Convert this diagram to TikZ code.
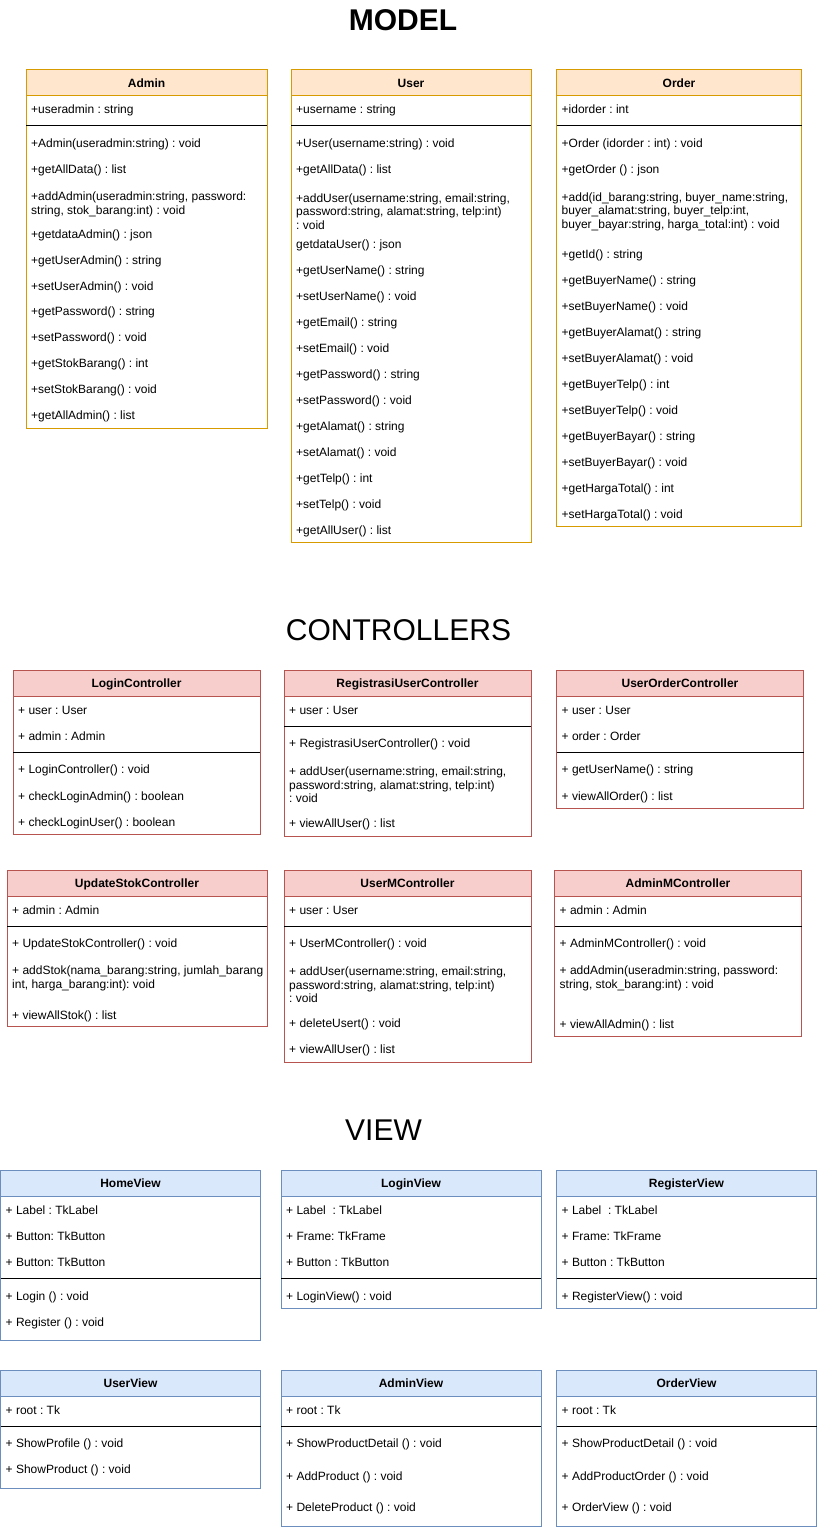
\documentclass[tikz,border=0pt]{standalone}
\usepackage{fontspec}
\setmainfont{Liberation Sans}
\usepackage{xcolor}
\usepackage{tikz}
\usetikzlibrary{positioning}
\frenchspacing

\definecolor{mfill}{HTML}{FFE6CC}
\definecolor{mline}{HTML}{D79B00}
\definecolor{cfill}{HTML}{F8CECC}
\definecolor{cline}{HTML}{B85450}
\definecolor{vfill}{HTML}{DAE8FC}
\definecolor{vline}{HTML}{6C8EBF}

\begin{document}
\begin{tikzpicture}[
    x=1pt, y=-1pt,
    head/.style={
        draw,
        line width=1pt,
        anchor=north west,
        minimum height=26pt,
        inner sep=0pt,
        outer sep=0pt,
        text height=8.7pt,
        text depth=0pt,
        font=\bfseries\fontsize{12}{14}\selectfont
    },
    mhead/.style={head, fill=mfill, draw=mline},
    chead/.style={head, fill=cfill, draw=cline},
    vhead/.style={head, fill=vfill, draw=vline},
    body/.style={
        draw,
        line width=1pt,
        inner sep=0pt,
        outer sep=0pt
    },
    mbody/.style={body, draw=mline},
    cbody/.style={body, draw=cline},
    vbody/.style={body, draw=vline},
    member/.style={
        anchor=west,
        inner sep=0pt,
        yshift=-1.5pt,
        text height=8.7pt,
        text depth=2.5pt,
        font=\fontsize{12}{13.5}\selectfont
    },
    members/.style={member, text height=, text depth=, align=left},
    divider/.style={line width=1pt},
    title/.style={font=\fontsize{30}{36}\selectfont}
]
\useasboundingbox (0,0) rectangle (817,1530);

\node[title, font=\bfseries\fontsize{30}{36}\selectfont] (model) at (403,20) {MODEL};
\node[title] (controllers) at (398.5,630) {CONTROLLERS};
\node[title] (view) at (383.5,1130) {VIEW};

\node[mhead, minimum width=241pt] (admin) at (26,70) {Admin};
\node[mbody, minimum width=241pt, minimum height=332pt, below=0pt of admin] (admin-body) {};
\draw[divider] (admin-body.west |- 0,126) -- (admin-body.east |- 0,126);
\node[member] (admin-a1) at (31,109) {+useradmin : string};
\node[member] (admin-m1) at (31,143) {+Admin(useradmin:string) : void};
\node[member] (admin-m2) at (31,169) {+getAllData() : list};
\node[members] (admin-m3) at (31,203) {+addAdmin(useradmin:string, password:\\string, stok\_barang:int) : void};
\node[member] (admin-m4) at (31,233.5) {+getdataAdmin() : json};
\node[member] (admin-m5) at (31,259.5) {+getUserAdmin() : string};
\node[member] (admin-m6) at (31,285.5) {+setUserAdmin() : void};
\node[member] (admin-m7) at (31,311) {+getPassword() : string};
\node[member] (admin-m8) at (31,337) {+setPassword() : void};
\node[member] (admin-m9) at (31,363) {+getStokBarang() : int};
\node[member] (admin-m10) at (31,389) {+setStokBarang() : void};
\node[member] (admin-m11) at (31,415) {+getAllAdmin() : list};

\node[mhead, minimum width=240pt] (user) at (291,70) {User};
\node[mbody, minimum width=240pt, minimum height=446pt, below=0pt of user] (user-body) {};
\draw[divider] (user-body.west |- 0,126) -- (user-body.east |- 0,126);
\node[member] (user-a1) at (296,109) {+username : string};
\node[member] (user-m1) at (296,143) {+User(username:string) : void};
\node[member] (user-m2) at (296,169) {+getAllData() : list};
\node[members] (user-m3) at (296,210) {+addUser(username:string, email:string,\\password:string, alamat:string, telp:int)\\: void};
\node[member] (user-m4) at (296,243.5) {getdataUser() : json};
\node[member] (user-m5) at (296,269.5) {+getUserName() : string};
\node[member] (user-m6) at (296,295.5) {+setUserName() : void};
\node[member] (user-m7) at (296,321.5) {+getEmail() : string};
\node[member] (user-m8) at (296,347.5) {+setEmail() : void};
\node[member] (user-m9) at (296,373.5) {+getPassword() : string};
\node[member] (user-m10) at (296,399.5) {+setPassword() : void};
\node[member] (user-m11) at (296,425.5) {+getAlamat() : string};
\node[member] (user-m12) at (296,451.5) {+setAlamat() : void};
\node[member] (user-m13) at (296,477.5) {+getTelp() : int};
\node[member] (user-m14) at (296,503.5) {+setTelp() : void};
\node[member] (user-m15) at (296,529.5) {+getAllUser() : list};

\node[mhead, minimum width=245pt] (order) at (556.5,70) {Order};
\node[mbody, minimum width=245pt, minimum height=430pt, below=0pt of order] (order-body) {};
\draw[divider] (order-body.west |- 0,126) -- (order-body.east |- 0,126);
\node[member] (order-a1) at (561.5,109) {+idorder : int};
\node[member] (order-m1) at (561.5,143) {+Order (idorder : int) : void};
\node[member] (order-m2) at (561.5,169) {+getOrder () : json};
\node[members] (order-m3) at (561.5,210) {+add(id\_barang:string, buyer\_name:string,\\buyer\_alamat:string, buyer\_telp:int,\\buyer\_bayar:string, harga\_total:int) : void};
\node[member] (order-m4) at (561.5,253.5) {+getId() : string};
\node[member] (order-m5) at (561.5,279.5) {+getBuyerName() : string};
\node[member] (order-m6) at (561.5,305.5) {+setBuyerName() : void};
\node[member] (order-m7) at (561.5,331.5) {+getBuyerAlamat() : string};
\node[member] (order-m8) at (561.5,357.5) {+setBuyerAlamat() : void};
\node[member] (order-m9) at (561.5,383.5) {+getBuyerTelp() : int};
\node[member] (order-m10) at (561.5,409.5) {+setBuyerTelp() : void};
\node[member] (order-m11) at (561.5,435.5) {+getBuyerBayar() : string};
\node[member] (order-m12) at (561.5,461.5) {+setBuyerBayar() : void};
\node[member] (order-m13) at (561.5,487.5) {+getHargaTotal() : int};
\node[member] (order-m14) at (561.5,513.5) {+setHargaTotal() : void};

\node[chead, minimum width=247pt] (loginc) at (13,670) {LoginController};
\node[cbody, minimum width=247pt, minimum height=138pt, below=0pt of loginc] (loginc-body) {};
\draw[divider] (loginc-body.west |- 0,752) -- (loginc-body.east |- 0,752);
\node[member] (loginc-a1) at (18,709.5) {+ user : User};
\node[member] (loginc-a2) at (18,735.5) {+ admin : Admin};
\node[member] (loginc-m1) at (18,769) {+ LoginController() : void};
\node[member] (loginc-m2) at (18,795.5) {+ checkLoginAdmin() : boolean};
\node[member] (loginc-m3) at (18,821.5) {+ checkLoginUser() : boolean};

\node[chead, minimum width=247pt] (regc) at (284,670) {RegistrasiUserController};
\node[cbody, minimum width=247pt, minimum height=140pt, below=0pt of regc] (regc-body) {};
\draw[divider] (regc-body.west |- 0,726) -- (regc-body.east |- 0,726);
\node[member] (regc-a1) at (289,709.5) {+ user : User};
\node[member] (regc-m1) at (289,743) {+ RegistrasiUserController() : void};
\node[members] (regc-m2) at (289,783.3) {+ addUser(username:string, email:string,\\password:string, alamat:string, telp:int)\\: void};
\node[member] (regc-m3) at (289,822.5) {+ viewAllUser() : list};

\node[chead, minimum width=247pt] (orderc) at (556.5,670) {UserOrderController};
\node[cbody, minimum width=247pt, minimum height=112pt, below=0pt of orderc] (orderc-body) {};
\draw[divider] (orderc-body.west |- 0,752) -- (orderc-body.east |- 0,752);
\node[member] (orderc-a1) at (561.5,709.5) {+ user : User};
\node[member] (orderc-a2) at (561.5,735.5) {+ order : Order};
\node[member] (orderc-m1) at (561.5,769) {+ getUserName() : string};
\node[member] (orderc-m2) at (561.5,795.5) {+ viewAllOrder() : list};

\node[chead, minimum width=260pt] (stokc) at (7,870) {UpdateStokController};
\node[cbody, minimum width=260pt, minimum height=130pt, below=0pt of stokc] (stokc-body) {};
\draw[divider] (stokc-body.west |- 0,926) -- (stokc-body.east |- 0,926);
\node[member] (stokc-a1) at (12,909.5) {+ admin : Admin};
\node[member] (stokc-m1) at (12,943) {+ UpdateStokController() : void};
\node[members] (stokc-m2) at (12,977) {+ addStok(nama\_barang:string, jumlah\_barang\\int, harga\_barang:int): void};
\node[member] (stokc-m3) at (12,1014.5) {+ viewAllStok() : list};

\node[chead, minimum width=247pt] (userc) at (284,870) {UserMController};
\node[cbody, minimum width=247pt, minimum height=166pt, below=0pt of userc] (userc-body) {};
\draw[divider] (userc-body.west |- 0,926) -- (userc-body.east |- 0,926);
\node[member] (userc-a1) at (289,909.5) {+ user : User};
\node[member] (userc-m1) at (289,943) {+ UserMController() : void};
\node[members] (userc-m2) at (289,983.3) {+ addUser(username:string, email:string,\\password:string, alamat:string, telp:int)\\: void};
\node[member] (userc-m3) at (289,1023) {+ deleteUsert() : void};
\node[member] (userc-m4) at (289,1049) {+ viewAllUser() : list};

\node[chead, minimum width=247pt] (adminc) at (554.5,870) {AdminMController};
\node[cbody, minimum width=247pt, minimum height=140pt, below=0pt of adminc] (adminc-body) {};
\draw[divider] (adminc-body.west |- 0,926) -- (adminc-body.east |- 0,926);
\node[member] (adminc-a1) at (559.5,909.5) {+ admin : Admin};
\node[member] (adminc-m1) at (559.5,943) {+ AdminMController() : void};
\node[members] (adminc-m2) at (559.5,977) {+ addAdmin(useradmin:string, password:\\string, stok\_barang:int) : void};
\node[member] (adminc-m3) at (559.5,1023.5) {+ viewAllAdmin() : list};

\node[vhead, minimum width=260pt] (homev) at (0.5,1170) {HomeView};
\node[vbody, minimum width=260pt, minimum height=144pt, below=0pt of homev] (homev-body) {};
\draw[divider] (homev-body.west |- 0,1278) -- (homev-body.east |- 0,1278);
\node[member] (homev-a1) at (5.5,1209.5) {+ Label : TkLabel};
\node[member] (homev-a2) at (5.5,1235.5) {+ Button: TkButton};
\node[member] (homev-a3) at (5.5,1261.5) {+ Button: TkButton};
\node[member] (homev-m1) at (5.5,1295.5) {+ Login () : void};
\node[member] (homev-m2) at (5.5,1321.5) {+ Register () : void};

\node[vhead, minimum width=260pt] (loginv) at (281,1170) {LoginView};
\node[vbody, minimum width=260pt, minimum height=112pt, below=0pt of loginv] (loginv-body) {};
\draw[divider] (loginv-body.west |- 0,1278) -- (loginv-body.east |- 0,1278);
\node[member] (loginv-a1) at (286,1209.5) {+ Label~ : TkLabel};
\node[member] (loginv-a2) at (286,1235.5) {+ Frame: TkFrame};
\node[member] (loginv-a3) at (286,1261.5) {+ Button : TkButton};
\node[member] (loginv-m1) at (286,1295.5) {+ LoginView() : void};

\node[vhead, minimum width=260pt] (regv) at (556.5,1170) {RegisterView};
\node[vbody, minimum width=260pt, minimum height=112pt, below=0pt of regv] (regv-body) {};
\draw[divider] (regv-body.west |- 0,1278) -- (regv-body.east |- 0,1278);
\node[member] (regv-a1) at (561.5,1209.5) {+ Label~ : TkLabel};
\node[member] (regv-a2) at (561.5,1235.5) {+ Frame: TkFrame};
\node[member] (regv-a3) at (561.5,1261.5) {+ Button : TkButton};
\node[member] (regv-m1) at (561.5,1295.5) {+ RegisterView() : void};

\node[vhead, minimum width=260pt] (userv) at (0.5,1370) {UserView};
\node[vbody, minimum width=260pt, minimum height=92pt, below=0pt of userv] (userv-body) {};
\draw[divider] (userv-body.west |- 0,1426) -- (userv-body.east |- 0,1426);
\node[member] (userv-a1) at (5.5,1409.5) {+ root : Tk};
\node[member] (userv-m1) at (5.5,1443) {+ ShowProfile () : void};
\node[member] (userv-m2) at (5.5,1469) {+ ShowProduct () : void};

\node[vhead, minimum width=260pt] (adminv) at (281,1370) {AdminView};
\node[vbody, minimum width=260pt, minimum height=130pt, below=0pt of adminv] (adminv-body) {};
\draw[divider] (adminv-body.west |- 0,1426) -- (adminv-body.east |- 0,1426);
\node[member] (adminv-a1) at (286,1409.5) {+ root : Tk};
\node[member] (adminv-m1) at (286,1443) {+ ShowProductDetail () : void};
\node[member] (adminv-m2) at (286,1475.5) {+ AddProduct () : void};
\node[member] (adminv-m3) at (286,1507) {+ DeleteProduct () : void};

\node[vhead, minimum width=260pt] (orderv) at (556.5,1370) {OrderView};
\node[vbody, minimum width=260pt, minimum height=130pt, below=0pt of orderv] (orderv-body) {};
\draw[divider] (orderv-body.west |- 0,1426) -- (orderv-body.east |- 0,1426);
\node[member] (orderv-a1) at (561.5,1409.5) {+ root : Tk};
\node[member] (orderv-m1) at (561.5,1443) {+ ShowProductDetail () : void};
\node[member] (orderv-m2) at (561.5,1475.5) {+ AddProductOrder () : void};
\node[member] (orderv-m3) at (561.5,1507) {+ OrderView () : void};

\end{tikzpicture}
\end{document}
